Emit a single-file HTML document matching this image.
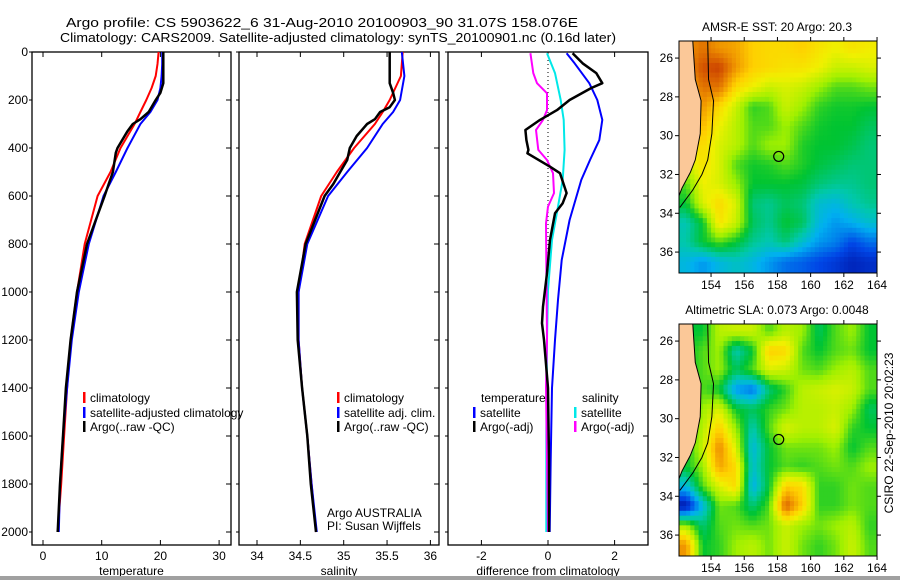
<!DOCTYPE html>
<html><head><meta charset="utf-8">
<style>
html,body{margin:0;padding:0;background:#fff;}
svg{display:block;font-family:"Liberation Sans",Arial,sans-serif;}
text{font-size:12px;fill:#000;}
</style></head>
<body>
<svg id="fig" width="900" height="580" viewBox="0 0 900 580" xmlns="http://www.w3.org/2000/svg">
<rect x="0" y="0" width="900" height="580" fill="#fff"/>
<text x="66" y="27" textLength="512" lengthAdjust="spacingAndGlyphs" style="font-size:13px">Argo profile: CS 5903622_6 31-Aug-2010 20100903_90 31.07S 158.076E</text>
<text x="60" y="42" textLength="556" lengthAdjust="spacingAndGlyphs" style="font-size:13px">Climatology: CARS2009. Satellite-adjusted climatology: synTS_20100901.nc (0.16d later)</text>
<g id="plots"></g>
<rect x="0" y="576" width="900" height="4" fill="#a0a0a0"/>
</svg>
<script>
// ---------- profile data ----------
const tempClimP = [0,50,100,150,200,250,300,400,500,600,800,1000,1200,1400,1600,1800,2000];
const tempClimV = [19.7,19.5,19.2,18.5,17.6,16.6,15.6,13.2,11.5,9.3,7.1,5.8,4.7,4.1,3.6,3.1,2.5];
const tempSatP = [0,50,100,150,200,250,300,400,500,600,800,1000,1200,1400,1600,1800,2000];
const tempSatV = [20.3,20.3,20.2,20.0,19.5,18.3,16.6,14.4,12.4,10.3,7.8,6.1,4.9,4.1,3.4,2.9,2.7];
const tempArgoP = [0,50,100,130,170,200,250,280,300,330,400,420,500,550,600,800,1000,1200,1400,1600,1800,2000];
const tempArgoV = [20.5,20.5,20.5,20.5,20.0,19.2,18.0,16.6,15.3,14.4,12.7,12.4,11.9,11.2,10.5,7.5,5.8,4.7,3.9,3.4,2.9,2.5];

const salClimP = [0,100,200,250,300,400,500,600,800,1000,1200,1400,1600,1800,2000];
const salClimV = [35.68,35.66,35.53,35.45,35.36,35.12,34.92,34.74,34.55,34.48,34.48,34.52,34.58,34.63,34.68];
const salSatP = [0,100,200,250,300,400,500,600,800,1000,1200,1400,1600,1800,2000];
const salSatV = [35.67,35.70,35.65,35.57,35.45,35.27,35.04,34.82,34.58,34.48,34.48,34.52,34.58,34.63,34.69];
const salArgoP = [0,130,170,200,230,250,280,300,350,400,450,500,550,600,800,1000,1200,1400,1600,1800,2000];
const salArgoV = [35.53,35.53,35.57,35.59,35.53,35.42,35.36,35.27,35.15,35.07,35.04,34.96,34.88,34.78,34.56,34.46,34.47,34.52,34.58,34.62,34.68];

const dTempSatP = [5,47,130,200,283,367,450,533,700,867,1033,1200,1400,1700,2000];
const dTempSatV = [0.56,0.80,1.24,1.48,1.63,1.54,1.26,1.0,0.65,0.41,0.30,0.21,0.12,0.08,0.05];
const dTempArgoP = [5,47,88,130,150,200,242,283,325,367,408,422,478,505,588,630,672,783,922,1061,1130,1200,1400,1700,2000];
const dTempArgoV = [0.74,1.04,1.45,1.63,1.30,0.65,0.27,-0.24,-0.68,-0.65,-0.59,-0.62,0.06,0.36,0.56,0.44,0.21,0.06,-0.03,-0.15,-0.18,-0.12,0.0,0.03,0.03];
const dSalSatP = [5,88,200,283,408,533,644,783,992,1200,1600,2000];
const dSalSatV = [-0.03,0.21,0.38,0.47,0.50,0.44,0.30,0.12,0.0,-0.03,-0.05,-0.05];
const dSalArgoP = [5,88,130,172,242,283,325,408,450,505,588,644,714,1200,1400,2000];
const dSalArgoV = [-0.53,-0.44,-0.33,-0.03,-0.03,-0.15,-0.36,-0.29,-0.03,0.15,0.18,0.0,-0.06,-0.03,-0.06,0.0];

const depthTicks = [0,200,400,600,800,1000,1200,1400,1600,1800,2000];
const tempTicks = [0,10,20,30];
const salTicks = [34,34.5,35,35.5,36];
const salTickLabels = ["34","34.5","35","35.5","36"];
const diffTicks = [-2,0,2];

// ---------- map data (rows lat 25.5..36.5 S, cols lon 152.5..163.5 E) ----------
const sstGrid = [
[0.8,0.85,0.8,0.78,0.72,0.7,0.7,0.72,0.68,0.65,0.68,0.66],
[0.8,0.9,0.92,0.8,0.72,0.7,0.68,0.68,0.65,0.6,0.6,0.62],
[0.75,0.85,0.85,0.7,0.65,0.6,0.62,0.6,0.55,0.5,0.5,0.52],
[0.7,0.8,0.7,0.6,0.48,0.5,0.6,0.55,0.48,0.46,0.46,0.45],
[0.68,0.75,0.65,0.58,0.5,0.5,0.55,0.5,0.46,0.45,0.45,0.42],
[0.65,0.7,0.62,0.58,0.5,0.55,0.55,0.47,0.45,0.45,0.43,0.4],
[0.6,0.68,0.62,0.5,0.46,0.47,0.5,0.47,0.44,0.42,0.4,0.4],
[0.5,0.65,0.62,0.55,0.45,0.45,0.45,0.44,0.4,0.38,0.38,0.4],
[0.45,0.62,0.7,0.62,0.4,0.38,0.42,0.4,0.32,0.3,0.35,0.38],
[0.35,0.45,0.68,0.6,0.42,0.38,0.45,0.42,0.3,0.25,0.28,0.32],
[0.36,0.45,0.5,0.45,0.38,0.35,0.4,0.32,0.25,0.22,0.15,0.2],
[0.3,0.25,0.3,0.33,0.3,0.25,0.2,0.18,0.15,0.12,0.08,0.1]];
const slaGrid = [
[0.45,0.45,0.58,0.6,0.6,0.5,0.58,0.55,0.42,0.5,0.55,0.45],
[0.45,0.5,0.55,0.35,0.45,0.72,0.7,0.5,0.45,0.5,0.52,0.45],
[0.45,0.5,0.55,0.42,0.5,0.62,0.6,0.52,0.5,0.55,0.58,0.5],
[0.45,0.5,0.45,0.25,0.2,0.4,0.48,0.58,0.6,0.62,0.6,0.5],
[0.45,0.55,0.62,0.45,0.42,0.48,0.52,0.58,0.58,0.6,0.55,0.42],
[0.45,0.58,0.72,0.55,0.35,0.5,0.62,0.58,0.58,0.62,0.48,0.45],
[0.45,0.6,0.82,0.62,0.3,0.45,0.52,0.52,0.52,0.55,0.45,0.5],
[0.45,0.55,0.78,0.7,0.32,0.45,0.5,0.48,0.5,0.52,0.5,0.55],
[0.3,0.5,0.62,0.7,0.28,0.45,0.72,0.7,0.48,0.48,0.52,0.5],
[0.05,0.3,0.52,0.5,0.4,0.5,0.88,0.72,0.48,0.48,0.52,0.5],
[0.55,0.4,0.5,0.52,0.5,0.52,0.6,0.55,0.52,0.55,0.58,0.48],
[0.8,0.45,0.48,0.55,0.58,0.52,0.6,0.52,0.48,0.52,0.6,0.5]];
const coastLon = [152.9,153.05,153.4,153.35,153.05,152.75,152.25,152.07];
const coastLat = [25.12,27.1,28.2,29.9,31.25,31.9,32.7,33.1];
const isoLon = [153.8,153.85,154.15,154.05,153.8,153.45,152.9,152.12];
const isoLat = [25.12,27.1,28.2,29.9,31.25,32.0,32.8,33.7];
const mapTicksLon = [154,156,158,160,162,164];
const mapTicksLat = [26,28,30,32,34,36];
const argoLon = 158.076, argoLat = 31.07;

// ---------- helpers ----------
const NS="http://www.w3.org/2000/svg";
const root=document.getElementById('plots');
function mk(tag,attrs,parent){const e=document.createElementNS(NS,tag);for(const k in attrs)e.setAttribute(k,attrs[k]);(parent||root).appendChild(e);return e;}
function txt(x,y,s,anchor,parent,size){const t=mk('text',{x:x,y:y,'text-anchor':anchor||'start'},parent);if(size)t.style.fontSize=size+'px';t.textContent=s;return t;}

const Y0=52,Y1=545;
function yP(p){return 52+p*0.24;}

function panel(name,x0,x1,sx,ticks,labels,xlabel){
  const g=mk('g',{});
  
  
  const r=mk('rect',{x:x0,y:Y0,width:x1-x0,height:Y1-Y0,fill:'none',stroke:'#000','stroke-width':1.3},g);
  
  
  ticks.forEach((v,i)=>{const x=sx(v);
    const t1=mk('line',{x1:x,x2:x,y1:Y1,y2:Y1-5,stroke:'#000'},g);
    
    
    mk('line',{x1:x,x2:x,y1:Y0,y2:Y0+5,stroke:'#000'},g);
    const l=txt(x,560,labels[i],'middle',g);
    
    
  });
  depthTicks.forEach(p=>{const y=yP(p);
    const t=mk('line',{x1:x1,x2:x1-5,y1:y,y2:y,stroke:'#000'},g);
    
    
    mk('line',{x1:x0,x2:x0-3,y1:y,y2:y,stroke:'#000'},g);
  });
  const xl=txt((x0+x1)/2,575,xlabel,'middle',g);
  
  
  return g;
}
function series(g,name,P,V,sx,color,w,dash){
  let d='';P.forEach((p,i)=>{d+=(i?'L':'M')+sx(V[i]).toFixed(1)+','+yP(p).toFixed(1);});
  const a={d:d,fill:'none',stroke:color,'stroke-width':w,'stroke-linejoin':'round'};
  if(dash)a['stroke-dasharray']=dash;
  const e=mk('path',a,g);
  
  
  return e;
}
function legend(g,x,y,color,label,name){
  const m=mk('rect',{x:x-1,y:y-10,width:2.5,height:11,fill:color},g);
  
  
  const t=txt(x+6,y,label,'start',g);
  
  
}

depthTicks.forEach(p=>{const t=txt(28,yP(p)+4,String(p),'end');
  
  });

// Panel 1 temperature
const sxT=v=>43+v*5.87;
const g1=panel('temperature-panel',32,231,sxT,tempTicks,tempTicks.map(String),'temperature');
series(g1,'temp-climatology-line',tempClimP,tempClimV,sxT,'#ff0000',2);
series(g1,'temp-satellite-line',tempSatP,tempSatV,sxT,'#0000ff',2);
series(g1,'temp-argo-line',tempArgoP,tempArgoV,sxT,'#000',2.5);
legend(g1,84,402,'#ff0000','climatology','legend-climatology');
legend(g1,84,417,'#0000ff','satellite-adjusted climatology','legend-satellite-adjusted');
legend(g1,84,431,'#000','Argo(..raw -QC)','legend-argo');

// Panel 2 salinity
const sxS=v=>257+(v-34)*86.7;
const g2=panel('salinity-panel',239,439,sxS,salTicks,salTickLabels,'salinity');
series(g2,'sal-climatology-line',salClimP,salClimV,sxS,'#ff0000',2);
series(g2,'sal-satellite-line',salSatP,salSatV,sxS,'#0000ff',2);
series(g2,'sal-argo-line',salArgoP,salArgoV,sxS,'#000',2.5);
legend(g2,338,402,'#ff0000','climatology','legend-sal-climatology');
legend(g2,338,417,'#0000ff','satellite adj. clim.','legend-sal-satellite');
legend(g2,338,431,'#000','Argo(..raw -QC)','legend-sal-argo');
let t1=txt(327,517,'Argo AUSTRALIA','start',g2);


let t2=txt(327,530,'PI: Susan Wijffels','start',g2);



// Panel 3 difference
const sxD=v=>548+v*33.3;
const g3=panel('difference-panel',448,648,sxD,diffTicks,diffTicks.map(String),'difference from climatology');
const zl=mk('line',{x1:sxD(0),x2:sxD(0),y1:yP(0),y2:yP(900),stroke:'#000','stroke-dasharray':'1,3'},g3);


series(g3,'diff-temp-satellite-line',dTempSatP,dTempSatV,sxD,'#0000ff',2);
series(g3,'diff-sal-satellite-line',dSalSatP,dSalSatV,sxD,'#00e8e8',2);
series(g3,'diff-sal-argo-line',dSalArgoP,dSalArgoV,sxD,'#ff00ff',2);
series(g3,'diff-temp-argo-line',dTempArgoP,dTempArgoV,sxD,'#000',2.5);
let lt=txt(481,402,'temperature','start',g3);


let ls=txt(582,402,'salinity','start',g3);


legend(g3,474,417,'#0000ff','satellite','legend-temp-satellite');
legend(g3,474,431,'#000','Argo(-adj)','legend-temp-argo');
legend(g3,575,417,'#00e8e8','satellite','legend-sal-satellite-diff');
legend(g3,575,431,'#ff00ff','Argo(-adj)','legend-sal-argo-diff');

// ---------- maps ----------
const cstops=[[0,[0,0,138]],[0.15,[0,70,230]],[0.28,[0,176,240]],[0.36,[0,200,170]],[0.45,[0,196,50]],[0.55,[160,240,0]],[0.65,[240,240,0]],[0.72,[255,208,0]],[0.8,[240,150,0]],[0.9,[210,80,0]],[1,[160,0,0]]];
function cmap(v){v=Math.max(0,Math.min(1,v));for(let i=1;i<cstops.length;i++){if(v<=cstops[i][0]){const a=cstops[i-1],b=cstops[i],f=(v-a[0])/(b[0]-a[0]);return 'rgb('+a[1].map((c,k)=>Math.round(c+(b[1][k]-c)*f)).join(',')+')';}}return 'rgb(160,0,0)';}
function sample(G,lon,lat){const c=Math.max(0,Math.min(10.999,lon-152.5)),r=Math.max(0,Math.min(10.999,lat-25.5));const i=Math.floor(r),j=Math.floor(c),fr=r-i,fc=c-j;
  return G[i][j]*(1-fr)*(1-fc)+G[i][j+1]*(1-fr)*fc+G[i+1][j]*fr*(1-fc)+G[i+1][j+1]*fr*fc;}

function drawMap(name,G,top,title){
  const L=679,R=877,B=top+232;
  const sx=lon=>L+(lon-152.07)*16.6, sy=lat=>top+(lat-25.12)*19.4;
  const g=mk('g',{});
  
  
  const cid=name+'-clip';
  const cp=mk('clipPath',{id:cid},g);mk('rect',{x:L,y:top,width:R-L,height:B-top},cp);
  const cells=mk('g',{'clip-path':'url(#'+cid+')'},g);
  
  
  for(let lat=25.0;lat<37.2;lat+=0.25){for(let lon=152.0;lon<164.1;lon+=0.25){
    const v=sample(G,lon+0.125,lat+0.125);
    mk('rect',{x:sx(lon).toFixed(2),y:sy(lat).toFixed(2),width:4.6,height:5.3,fill:cmap(v)},cells);}}
  let land='M'+sx(152.0)+','+sy(25.0);coastLon.forEach((l,i)=>land+='L'+sx(l)+','+sy(coastLat[i]));land+='L'+sx(152.0)+','+sy(coastLat[coastLat.length-1])+'Z';
  const ld=mk('path',{d:land,fill:'#fbc898',stroke:'#000','stroke-width':1},cells);
  
  
  let iso='';isoLon.forEach((l,i)=>iso+=(i?'L':'M')+sx(l)+','+sy(isoLat[i]));
  const il=mk('path',{d:iso,fill:'none',stroke:'#000','stroke-width':1},cells);
  
  
  const c=mk('circle',{cx:sx(argoLon),cy:sy(argoLat),r:5,fill:'none',stroke:'#000','stroke-width':1.2},g);
  
  
  const fr=mk('rect',{x:L,y:top,width:R-L,height:B-top,fill:'none',stroke:'#000','stroke-width':1},g);
  
  
  mapTicksLon.forEach(l=>{const x=sx(l);
    mk('line',{x1:x,x2:x,y1:B,y2:B+4,stroke:'#000'},g);mk('line',{x1:x,x2:x,y1:top,y2:top-4,stroke:'#000'},g);
    const t=txt(x,B+16,String(l),'middle',g);
    
    });
  mapTicksLat.forEach(l=>{const y=sy(l);
    mk('line',{x1:L,x2:L-4,y1:y,y2:y,stroke:'#000'},g);mk('line',{x1:R,x2:R+4,y1:y,y2:y,stroke:'#000'},g);
    const t=txt(L-6,y+4,String(l),'end',g);
    
    });
  const tt=txt(777,top-10,title,'middle',g);
  
  
}
drawMap('sst-map',sstGrid,41,'AMSR-E SST: 20 Argo: 20.3');
drawMap('sla-map',slaGrid,324,'Altimetric SLA: 0.073 Argo: 0.0048');
const cs=txt(0,0,'CSIRO 22-Sep-2010 20:02:23','middle');
cs.setAttribute('transform','translate(893,433) rotate(-90)');


</script>
</body></html>
